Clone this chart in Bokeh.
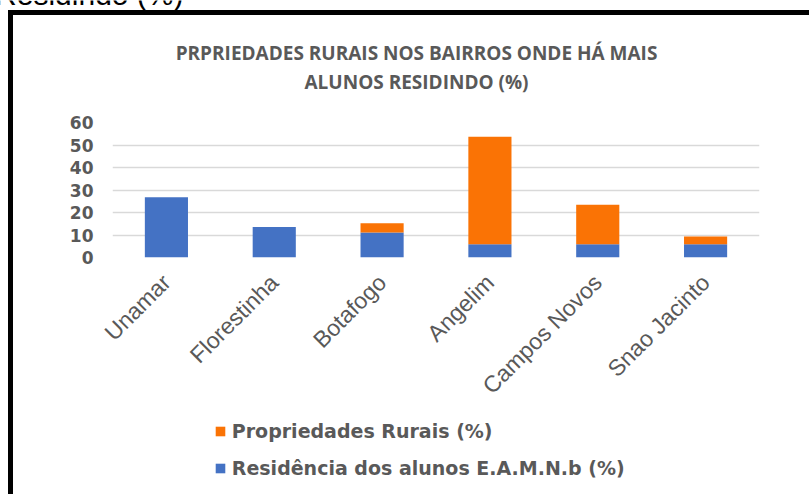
import math
from bokeh.plotting import figure
from bokeh.models import Legend, LegendItem, FactorRange, Range1d
from bokeh.core.properties import value
from bokeh.embed import file_html
from bokeh.resources import INLINE

# ---- data ----
bairros = ["Unamar", "Florestinha", "Botafogo", "Angelim", "Campos Novos", "Snao Jacinto"]
residencia = [26.8, 13.6, 11.1, 5.9, 5.9, 5.9]
propriedades = [0.0, 0.0, 4.1, 47.8, 17.5, 3.4]
y_ticks = [0, 10, 20, 30, 40, 50, 60]
series_names = ["Residência dos alunos E.A.M.N.b (%)", "Propriedades Rurais (%)"]
title_lines = ["PRPRIEDADES RURAIS NOS BAIRROS ONDE HÁ MAIS", "ALUNOS RESIDINDO (%)"]
cut_text = "Residindo (%)"

BLUE = "#4472C4"
ORANGE = "#FA7305"
GRAY = "#595959"

W, H = 809, 494
data = dict(bairro=bairros, res=residencia, prop=propriedades)


def place(fig, left, top):
    fig.styles = {"position": "absolute", "left": f"{left}px", "top": f"{top}px"}


# ---- main chart ----
p = figure(
    x_range=FactorRange(*bairros, range_padding=0),
    y_range=(0, 60),
    width=W, height=H,
    output_backend="svg", toolbar_location=None,
    min_border_left=112, min_border_right=50,
    min_border_top=122, min_border_bottom=237,
)
p.title.text = ""
p.title.visible = False
p.border_fill_color = None
p.background_fill_color = None
p.outline_line_color = None
p.styles = {
    "position": "absolute", "left": "0px", "top": "0px",
    "background": "linear-gradient(#000,#000) 8px 10px / 5px 700px no-repeat, "
                  "linear-gradient(#000,#000) 8px 10px / 900px 5px no-repeat, #ffffff",
}

p.vbar_stack(["res", "prop"], x="bairro", width=0.4, source=data,
             color=[BLUE, ORANGE], line_color=None)

p.yaxis.ticker = y_ticks
p.yaxis.axis_line_color = None
p.yaxis.major_tick_line_color = None
p.yaxis.minor_tick_line_color = None
p.yaxis.major_tick_out = 0
p.yaxis.major_label_standoff = 19
p.yaxis.major_label_text_font = "DejaVu Sans"
p.yaxis.major_label_text_font_style = "bold"
p.yaxis.major_label_text_font_size = "17px"
p.yaxis.major_label_text_color = GRAY

p.xaxis.axis_line_color = None
p.xaxis.major_tick_line_color = None
p.xaxis.major_tick_out = 0
p.xaxis.major_label_standoff = 21
p.xaxis.major_label_orientation = math.pi / 4
p.xaxis.major_label_text_font = "Liberation Sans"
p.xaxis.major_label_text_font_size = "23px"
p.xaxis.major_label_text_color = GRAY

p.xgrid.grid_line_color = None
p.ygrid.grid_line_color = "#d9d9d9"
p.ygrid.grid_line_width = 1.5

# ---- header strip: chart title + cut-off line of the surrounding document ----
HEAD_H = 110
head = figure(width=W, height=HEAD_H, x_range=Range1d(0, W), y_range=Range1d(HEAD_H, 0),
              x_axis_type=None, y_axis_type=None, output_backend="svg",
              toolbar_location=None, min_border=0)
head.title.text = ""
head.title.visible = False
head.grid.visible = False
head.outline_line_color = None
head.border_fill_color = None
head.background_fill_color = None
head.text(x=[416, 416], y=[52.1, 81.1], text=title_lines, text_align="center",
          text_baseline="alphabetic", text_font=value("Open Sans"),
          text_font_style="bold", text_font_size="19px", text_color=GRAY)
head.text(x=[183], y=[-6], text=[cut_text], text_align="right",
          text_baseline="alphabetic", text_font=value("Liberation Sans"),
          text_font_size="30px", text_color="black")
place(head, 0, 0)

# ---- legend strip ----
LEG_TOP = 400
LEG_H = H - LEG_TOP
leg = figure(width=W, height=LEG_H, x_range=FactorRange(*bairros), y_range=Range1d(1000, 1100),
             x_axis_type=None, y_axis_type=None, output_backend="svg",
             toolbar_location=None, min_border=0)
leg.title.text = ""
leg.title.visible = False
leg.grid.visible = False
leg.outline_line_color = None
leg.border_fill_color = None
leg.background_fill_color = None
lr = leg.vbar_stack(["res", "prop"], x="bairro", width=0.4, source=data,
                    color=[BLUE, ORANGE], line_color=None)
legend = Legend(
    items=[LegendItem(label=series_names[1], renderers=[lr[1]]),
           LegendItem(label=series_names[0], renderers=[lr[0]])],
    location=(213.8, 15),
    orientation="vertical",
    padding=0, margin=0, border_line_color=None, background_fill_color=None,
    glyph_width=12, glyph_height=12, label_standoff=6,
    label_height=22, spacing=15,
    label_text_font="DejaVu Sans", label_text_font_style="bold",
    label_text_font_size="19px", label_text_color=GRAY,
)
leg.add_layout(legend, "center")
place(leg, 0, LEG_TOP)

open("out.html", "w").write(file_html([p, head, leg], INLINE))
